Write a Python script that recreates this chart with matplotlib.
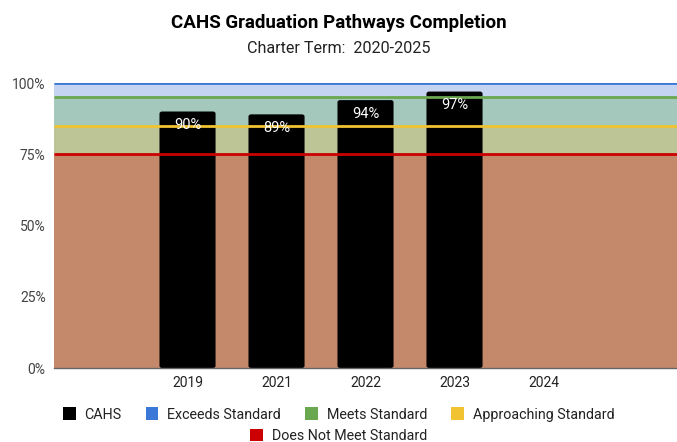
import numpy as np
import matplotlib.pyplot as plt
from matplotlib.patches import FancyBboxPatch, Patch

plt.rcParams['font.family'] = ['Roboto', 'DejaVu Sans']

# --- Datos ---
years = ['', '2019', '2021', '2022', '2023', '2024', '']
cahs = [np.nan, 90, 89, 94, 97, np.nan, np.nan]

# Umbrales de desempeño (%)
does_not_meet = 75
approaching = 85
meets = 95
exceeds = 100

band_colors = ['#C4886B', '#BDC495', '#A4C8BC', '#C4D4F1']
line_colors = {'Exceeds Standard': '#3C78D8', 'Meets Standard': '#6AA84F',
               'Approaching Standard': '#F1C232', 'Does Not Meet Standard': '#CC0000'}

fig = plt.figure(figsize=(6.77, 4.42), dpi=100)
ax = fig.add_axes([0.0798, 0.1674, 0.9202, 0.6448])

x = np.arange(len(years))
xs = np.array([-0.5, len(years) - 0.5])

# Bandas de fondo
levels = [0, does_not_meet, approaching, meets, exceeds]
for i in range(4):
    ax.fill_between(xs, levels[i], levels[i + 1], color=band_colors[i], lw=0, zorder=0)

# Barras con esquinas redondeadas
w = 0.63
for xi, v in zip(x, cahs):
    if np.isnan(v):
        continue
    p = FancyBboxPatch((xi - w / 2, 0), w, v, boxstyle='round,pad=0,rounding_size=0.03',
                       mutation_aspect=25, fc='black', ec='none', zorder=2)
    ax.add_patch(p)

# Líneas de umbral (encima de las barras)
for val, name in [(exceeds, 'Exceeds Standard'), (meets, 'Meets Standard'),
                  (approaching, 'Approaching Standard'), (does_not_meet, 'Does Not Meet Standard')]:
    ax.plot(xs, [val, val], color=line_colors[name], lw=2, zorder=3, solid_capstyle='butt')

# Etiquetas de valores
for xi, v in zip(x, cahs):
    if np.isnan(v):
        continue
    ax.text(xi, v - 4.8, f'{v:.0f}%', ha='center', va='center', color='white',
            fontsize=10.5, zorder=4)

ax.set_xlim(-0.5, len(years) - 0.5)
ax.set_ylim(0, 100)
ax.set_xticks(x)
ax.set_xticklabels(years, fontsize=10, color='#222222')
ax.set_yticks([0, 25, 50, 75, 100])
ax.set_yticklabels(['0%', '25%', '50%', '75%', '100%'], fontsize=10, color='#444444')
ax.tick_params(length=0, pad=6)
for s in ax.spines.values():
    s.set_visible(False)
ax.spines['bottom'].set_visible(True)
ax.spines['bottom'].set_color('#666666')
ax.spines['bottom'].set_linewidth(1)
ax.spines['bottom'].set_zorder(5)

fig.text(0.5, 0.948, 'CAHS Graduation Pathways Completion', ha='center', va='center',
         fontsize=13.5, fontweight='bold', color='black')
fig.text(0.5, 0.89, 'Charter Term:  2020-2025', ha='center', va='center',
         fontsize=11.6, color='#222222')

# Leyenda en dos filas
row1 = [Patch(fc='black', label='CAHS')] + \
       [Patch(fc=line_colors[n], label=n) for n in ['Exceeds Standard', 'Meets Standard', 'Approaching Standard']]
row2 = [Patch(fc=line_colors['Does Not Meet Standard'], label='Does Not Meet Standard')]
leg_kw = dict(frameon=False, fontsize=10.3, handlelength=0.9, handleheight=1.0,
              handletextpad=0.6, labelcolor='#222222')
leg1 = fig.legend(handles=row1, loc='center', bbox_to_anchor=(0.5, 0.062), ncol=4,
                  columnspacing=1.7, **leg_kw)
leg2 = fig.legend(handles=row2, loc='center', bbox_to_anchor=(0.5, 0.014), ncol=1, **leg_kw)

fig.savefig('out.png', dpi=100)
